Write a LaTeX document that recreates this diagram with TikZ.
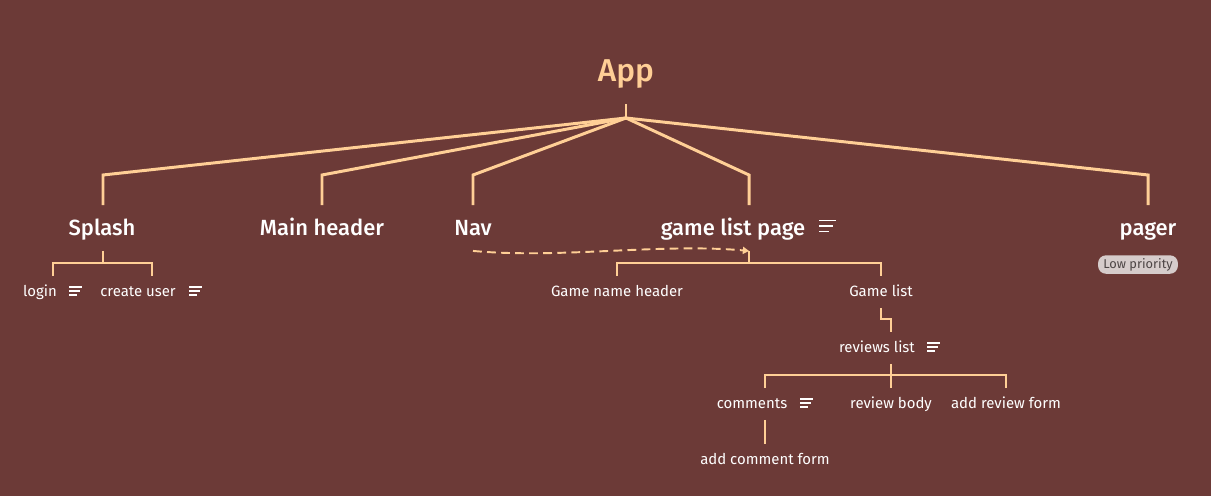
\documentclass[tikz,border=0pt]{standalone}
\usepackage{fontspec}
\setmainfont{Fira Sans}
\IfFontExistsTF{Fira Sans Medium}{\newfontfamily\medfont{Fira Sans Medium}}{\newfontfamily\medfont{Fira Sans}[FakeBold=1.2]}
\usetikzlibrary{positioning,arrows.meta}
\definecolor{bg}{HTML}{6C3A37}
\definecolor{peach}{HTML}{FFCF96}
\definecolor{badgebg}{HTML}{D6CCCB}
\definecolor{badgetext}{HTML}{4D4545}

\begin{document}
\begin{tikzpicture}[x=0.02cm, y=-0.02cm,
    root/.style={text=peach, font=\medfont\fontsize{18}{20}\selectfont, text height=13pt, text depth=4pt, inner xsep=0pt, inner ysep=8.5pt},
    topic/.style={text=white, font=\medfont\fontsize{12.5}{14}\selectfont, text height=10.5pt, text depth=2pt, inner xsep=0pt, inner ysep=6.6pt},
    sub/.style={text=white, font=\fontsize{8.5}{10}\selectfont, text height=7pt, text depth=2.2pt, inner xsep=0pt, inner ysep=4.3pt},
    badge/.style={fill=badgebg, text=badgetext, font=\fontsize{7.3}{8}\selectfont, rounded corners=4.5pt, minimum height=10.5pt, inner xsep=3pt, inner ysep=0pt},
    branch/.style={draw=peach, line width=1.7pt},
    link/.style={draw=peach, line width=1.2pt},
    dashlink/.style={draw=peach, line width=1.1pt, dashed, dash pattern=on 5pt off 3pt, -{Triangle[length=3.5pt,width=4pt]}},
    note/.pic={\draw[white, line width=0.65pt] (0,-4) -- ++(13,0) (0,0) -- ++(11,0) (0,4) -- ++(8,0);}
  ]
  \fill[bg] (0,0) rectangle (1211,496);

  % Define nodes
  \node[root] (app) at (626,74) {App};
  \coordinate (r) at (626,118);

  \node[topic] (splash) at (102,228) {Splash};
  \node[topic] (main) at (322,228) {Main header};
  \node[topic] (nav) at (473,228) {Nav};
  \node[topic] (glp) at (733,228) {game list page};
  \node[topic] (pager) at (1148,228) {pager};
  \node[badge, below=2.3pt of pager, xshift=-5.7pt] (low) {Low priority};

  \node[sub] (login) at (40,292) {login};
  \node[sub] (create) at (138,292) {create user};
  \node[sub] (gnh) at (617,292) {Game name header};
  \node[sub] (gl) at (881,292) {Game list};
  \node[sub] (rl) at (877,348) {reviews list};
  \node[sub] (com) at (752,404) {comments};
  \node[sub] (rb) at (891,404) {review body};
  \node[sub] (arf) at (1006,404) {add review form};
  \node[sub] (acf) at (765,460) {add comment form};

  % Note icons
  \pic at (69,291) {note};
  \pic at (189,291) {note};
  \pic[scale=1.3] at (819,226) {note};
  \pic at (927,347) {note};
  \pic at (800,403) {note};

  % Connectors
  \draw[branch] (app.south) -- (r);
  \foreach \n/\x in {splash/103, main/322, nav/473, glp/749, pager/1148}
    \draw[branch] (r) -- (\x,175) -- (\x,0 |- \n.north);

  \draw[link] (103,0 |- splash.south) -- (103,263);
  \draw[link] (53,0 |- login.north) |- (152,263) -- (152,0 |- create.north);

  \draw[link] (749,0 |- glp.south) -- (749,263);
  \draw[link] (gnh.north) |- (gl.north |- 0,263) -- (gl.north);

  \draw[link] (gl.south) -- (881,319) -- (891,319) -- (891,0 |- rl.north);

  \draw[link] (891,0 |- rl.south) -- (rb.north);
  \draw[link] (765,0 |- com.north) |- (arf.north |- 0,375) -- (arf.north);
  \draw[link] (765,0 |- com.south) -- (acf.north);

  \draw[dashlink] (nav.south) .. controls (560,259) and (660,243) .. (749,0 |- glp.south);
\end{tikzpicture}
\end{document}
